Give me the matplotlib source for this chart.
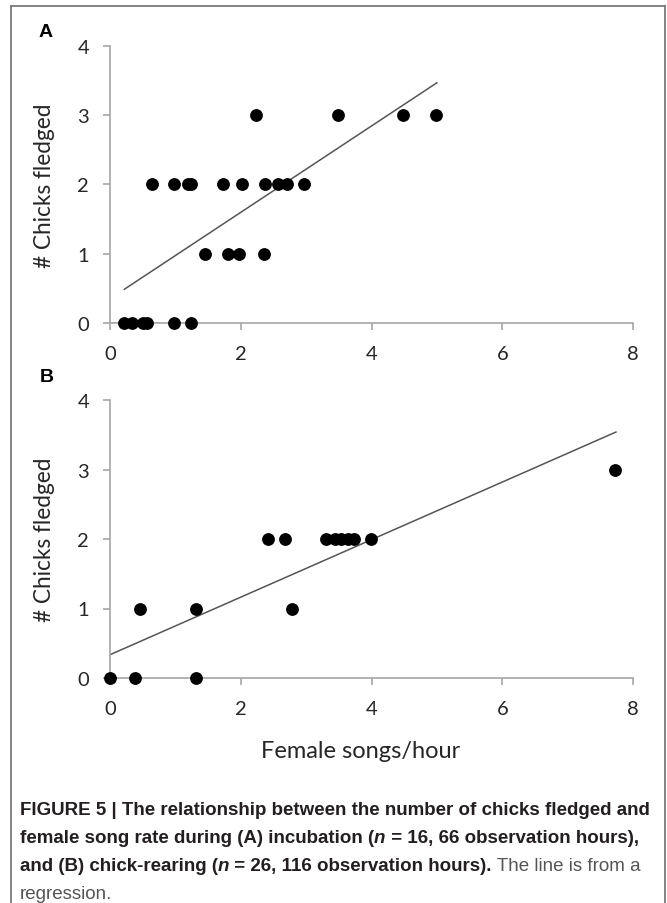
import matplotlib
matplotlib.use('Agg')
import matplotlib.pyplot as plt
from matplotlib.lines import Line2D

# ---------------- data ----------------
a_x = [0.21, 0.33, 0.51, 0.57, 0.98, 1.24,
       1.46, 1.81, 1.98, 2.36,
       0.64, 0.98, 1.19, 1.24, 1.73, 2.02, 2.37, 2.57, 2.70, 2.97,
       2.24, 3.49, 4.48, 4.98]
a_y = [0, 0, 0, 0, 0, 0,
       1, 1, 1, 1,
       2, 2, 2, 2, 2, 2, 2, 2, 2, 2,
       3, 3, 3, 3]
a_fit = (0.35, 0.623)        # intercept, slope
a_fit_range = (0.21, 5.01)

b_x = [0.0, 0.38, 1.32,
       0.46, 1.31, 2.78,
       2.41, 2.68, 3.31, 3.44, 3.53, 3.64, 3.73, 3.99,
       7.73]
b_y = [0, 0, 0,
       1, 1, 1,
       2, 2, 2, 2, 2, 2, 2, 2,
       3]
b_fit = (0.335, 0.414)
b_fit_range = (0.0, 7.75)

x_ticks = [0, 2, 4, 6, 8]
y_ticks = [0, 1, 2, 3, 4]
y_label = "# Chicks fledged"
x_label = "Female songs/hour"
panel_labels = ["A", "B"]

caption_lines = [
    [("FIGURE 5 | The relationship between the number of chicks fledged and", "bold", "normal")],
    [("female song rate during (A) incubation (", "bold", "normal"), ("n", "bold", "italic"),
     (" = 16, 66 observation hours),", "bold", "normal")],
    [("and (B) chick-rearing (", "bold", "normal"), ("n", "bold", "italic"),
     (" = 26, 116 observation hours).", "bold", "normal"), (" The line is from a", "normal", "normal")],
    [("regression.", "normal", "normal")],
]

# ---------------- figure ----------------
W, H = 667, 904
fig = plt.figure(figsize=(W / 100, H / 100), dpi=100)
fig.patch.set_facecolor('white')

def fx(px):
    return px / W

def fy(py):
    return 1 - py / H

TICK_FONT = 'Lato'
SPINE = '#a6a6a6'
TXT = '#262626'

def make_axes(top_px, bottom_px, xs, ys, fit, frange):
    ax = fig.add_axes([fx(110), fy(bottom_px), fx(633) - fx(110), fy(top_px) - fy(bottom_px)])
    ax.set_xlim(0, 8)
    ax.set_ylim(0, 4)
    for s in ['top', 'right']:
        ax.spines[s].set_visible(False)
    for s in ['left', 'bottom']:
        ax.spines[s].set_color(SPINE)
        ax.spines[s].set_linewidth(1.2)
    ax.set_xticks(x_ticks)
    ax.set_yticks(y_ticks)
    ax.tick_params(axis='both', direction='out', color=SPINE, width=1.2, length=5,
                   labelsize=14.5, labelcolor=TXT)
    ax.tick_params(axis='x', pad=11)
    ax.tick_params(axis='y', pad=10)
    for t in ax.get_xticklabels() + ax.get_yticklabels():
        t.set_fontfamily(TICK_FONT)
    ax.plot(xs, ys, 'o', color='black', markersize=8.2, clip_on=False, zorder=3)
    x0, x1 = frange
    ax.plot([x0, x1], [fit[0] + fit[1] * x0, fit[0] + fit[1] * x1], color='#555555',
            linewidth=1.1, zorder=2, solid_capstyle='butt')
    ax.set_ylabel(y_label, fontsize=16.3, family=TICK_FONT, color=TXT)
    ax.yaxis.set_label_coords((55 - 110) / 523, 0.5)
    ax.set_facecolor('none')
    return ax

axA = make_axes(46.7, 324, a_x, a_y, a_fit, a_fit_range)
axB = make_axes(401, 679, b_x, b_y, b_fit, b_fit_range)

fig.text(fx(46), fy(32.5), panel_labels[0], fontsize=14, fontweight='bold',
         family='Liberation Sans', ha='center', va='center', color='black')
fig.text(fx(47), fy(377), panel_labels[1], fontsize=14, fontweight='bold',
         family='Liberation Sans', ha='center', va='center', color='black')

fig.text(fx(361), fy(752), x_label, fontsize=17, family=TICK_FONT, color=TXT,
         ha='center', va='center')

# border (open at the bottom)
border = '#7a7a7a'
fig.add_artist(Line2D([fx(11), fx(11)], [0, fy(7)], color=border, linewidth=1.3))
fig.add_artist(Line2D([fx(11), fx(665)], [fy(7), fy(7)], color=border, linewidth=1.3))
fig.add_artist(Line2D([fx(665), fx(665)], [0, fy(7)], color=border, linewidth=1.3))

# caption
renderer = fig.canvas.get_renderer()
CAP_FONT = 'Liberation Sans'
colors = {"bold": '#231f20', "normal": '#555555'}

def measure(txt, size, weight, style):
    t = fig.text(0, 0, txt, fontsize=size, fontweight=weight, fontstyle=style, family=CAP_FONT)
    w = t.get_window_extent(renderer).width
    t.remove()
    return w

base = 12.0
w1 = measure(caption_lines[0][0][0], base, 'bold', 'normal')
cap_size = base * (630 / w1)

baselines = [815, 843, 871, 899]
for line, bl in zip(caption_lines, baselines):
    x = 20.0
    for txt, weight, style in line:
        t = fig.text(fx(x), fy(bl), txt, fontsize=cap_size, fontweight=weight, fontstyle=style,
                     family=CAP_FONT, color=colors[weight], ha='left', va='baseline')
        x += t.get_window_extent(renderer).width

fig.savefig('out.png', dpi=100, facecolor='white')
